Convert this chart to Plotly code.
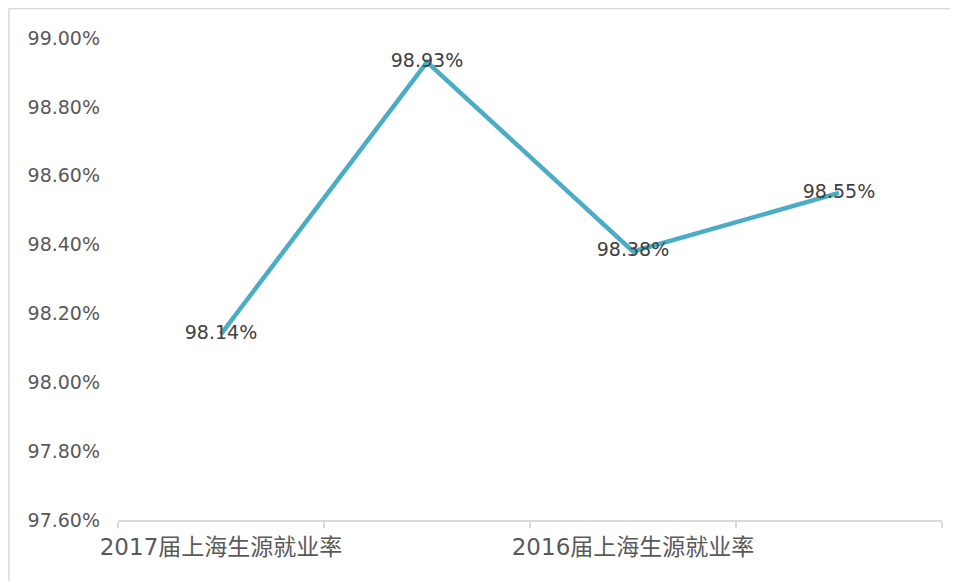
import plotly.graph_objects as go

# Data
categories = ["2017届上海生源就业率", "", "2016届上海生源就业率", ""]
values = [98.14, 98.93, 98.38, 98.55]
value_labels = ["98.14%", "98.93%", "98.38%", "98.55%"]
y_ticks = [97.6, 97.8, 98.0, 98.2, 98.4, 98.6, 98.8, 99.0]
y_tick_labels = ["97.60%", "97.80%", "98.00%", "98.20%", "98.40%", "98.60%", "98.80%", "99.00%"]

x_pos = list(range(len(values)))
label_pos = [i for i, c in enumerate(categories) if c]
label_text = [c for c in categories if c]

fig = go.Figure()
fig.add_trace(go.Scatter(
    x=x_pos, y=values, mode="lines+text",
    line=dict(color="#4BACC6", width=4.5),
    text=value_labels, textposition="middle center",
    textfont=dict(family="DejaVu Sans, Noto Sans CJK SC", size=19, color="#404040"),
    hoverinfo="skip", showlegend=False,
))

# page has an 8px body margin; figure is sized/offset to compensate
W, H = 950, 573
L, T = 110, 30
pw, ph = 824, 482
R, B = W - L - pw, H - T - ph

fig.update_layout(
    width=W, height=H,
    margin=dict(l=L, r=R, t=T, b=B),
    paper_bgcolor="white", plot_bgcolor="white",
    font=dict(family="DejaVu Sans, Noto Sans CJK SC", color="#595959"),
    xaxis=dict(
        range=[-0.5, len(values) - 0.5],
        tickvals=label_pos, ticktext=label_text,
        ticks="", showgrid=False, zeroline=False,
        showline=True, linecolor="#d9d9d9", linewidth=1.5,
        tickfont=dict(size=23, color="#595959", family="DejaVu Sans, Noto Sans CJK SC"),
        ticklabelstandoff=6,
        minor=dict(tickvals=[i - 0.5 for i in range(len(values) + 1)],
                   ticks="outside", ticklen=6, tickcolor="#d9d9d9", tickwidth=1.5,
                   showgrid=False),
    ),
    yaxis=dict(
        range=[97.6, 99.0],
        tickvals=y_ticks, ticktext=y_tick_labels,
        ticks="", showgrid=False, zeroline=False, showline=False,
        tickfont=dict(size=19, color="#595959", family="DejaVu Sans"),
        ticklabelstandoff=17,
    ),
    shapes=[
        dict(type="line", xref="paper", yref="paper",
             x0=(1 - L) / pw, x1=(W - L) / pw, y0=1 + (T - 0.5) / ph, y1=1 + (T - 0.5) / ph,
             line=dict(color="#d9d9d9", width=1.5)),
        dict(type="line", xref="paper", yref="paper",
             x0=(1 - L) / pw, x1=(1 - L) / pw, y0=1 + (T - 0.5) / ph, y1=-(B) / ph,
             line=dict(color="#d9d9d9", width=1.5)),
    ],
)

fig.write_html("out.html")
